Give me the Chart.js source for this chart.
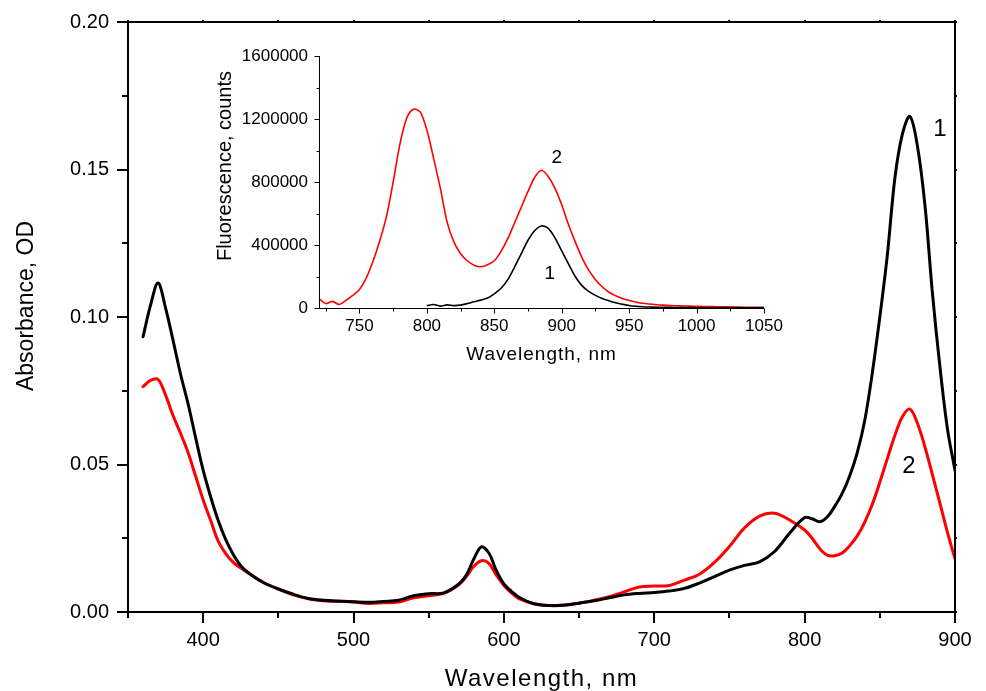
<!DOCTYPE html>
<html>
<head>
<meta charset="utf-8">
<script src="https://cdn.jsdelivr.net/npm/chart.js@4.4.1/dist/chart.umd.min.js"></script>
<style>
  html, body { margin: 0; padding: 0; background: #fff; }
  #wrap { position: relative; width: 986px; height: 691px; }
  #wrap canvas { position: absolute; left: 0; top: 0; }
</style>
</head>
<body>
<div id="wrap">
  <canvas id="main" width="986" height="691"></canvas>
  <canvas id="inset" width="986" height="691"></canvas>
</div>
<script>
// ---- absorbance spectra (main plot) ----
const absWl = [
  360, 365, 370, 375, 380, 385, 390, 395, 400, 405,
  410, 415, 420, 425, 430, 440, 450, 460, 470, 480,
  490, 500, 510, 520, 530, 540, 550, 560, 570, 575,
  580, 585, 590, 595, 600, 605, 610, 620, 630, 640,
  650, 660, 670, 680, 690, 700, 710, 720, 730, 740,
  750, 760, 770, 780, 790, 800, 805, 810, 815, 820,
  825, 830, 835, 840, 845, 850, 855, 860, 865, 870,
  875, 880, 885, 890, 895, 900,
];
const absCurve1 = [
  0.0933, 0.1040, 0.1115, 0.1030, 0.0920, 0.0805, 0.0705, 0.0590, 0.0480, 0.0390,
  0.0310, 0.0245, 0.0195, 0.0157, 0.0133, 0.0100, 0.0078, 0.0060, 0.0046, 0.0040,
  0.0037, 0.0035, 0.0033, 0.0036, 0.0040, 0.0055, 0.0062, 0.0065, 0.0095, 0.0125,
  0.0180, 0.0221, 0.0200, 0.0140, 0.0095, 0.0070, 0.0050, 0.0028, 0.0022, 0.0023,
  0.0030, 0.0038, 0.0048, 0.0058, 0.0063, 0.0066, 0.0071, 0.0080, 0.0098, 0.0120,
  0.0142, 0.0158, 0.0170, 0.0205, 0.0267, 0.0320, 0.0316, 0.0306, 0.0322, 0.0358,
  0.0402, 0.0462, 0.0540, 0.0650, 0.0810, 0.1000, 0.1210, 0.1470, 0.1620, 0.1680,
  0.1580, 0.1380, 0.1080, 0.0830, 0.0620, 0.0480,
];
const absCurve2 = [
  0.0764, 0.0785, 0.0788, 0.0735, 0.0665, 0.0605, 0.0540, 0.0460, 0.0380, 0.0310,
  0.0240, 0.0198, 0.0168, 0.0149, 0.0132, 0.0100, 0.0078, 0.0058, 0.0045, 0.0038,
  0.0036, 0.0034, 0.0029, 0.0031, 0.0034, 0.0048, 0.0055, 0.0063, 0.0092, 0.0120,
  0.0155, 0.0174, 0.0165, 0.0125, 0.0090, 0.0065, 0.0045, 0.0028, 0.0022, 0.0024,
  0.0030, 0.0040, 0.0052, 0.0068, 0.0085, 0.0088, 0.0090, 0.0108, 0.0128, 0.0168,
  0.0222, 0.0285, 0.0325, 0.0335, 0.0312, 0.0278, 0.0250, 0.0215, 0.0193, 0.0191,
  0.0200, 0.0225, 0.0258, 0.0305, 0.0365, 0.0440, 0.0520, 0.0598, 0.0662, 0.0688,
  0.0640, 0.0560, 0.0465, 0.0368, 0.0270, 0.0180,
];
const absXTicks = [400, 500, 600, 700, 800, 900];
const absXMinor = [350, 450, 550, 650, 750, 850];
const absYTicks = [0, 0.05, 0.10, 0.15, 0.20];
const absYMinor = [0.025, 0.075, 0.125, 0.175];

// ---- fluorescence spectra (inset) ----
const flWl2 = [
  720, 725, 730, 735, 740, 745, 750, 755, 760, 765,
  770, 775, 780, 785, 790, 795, 800, 805, 810, 815,
  820, 825, 830, 835, 840, 845, 850, 855, 860, 865,
  870, 875, 880, 885, 890, 895, 900, 905, 910, 915,
  920, 925, 930, 935, 940, 945, 950, 955, 960, 965,
  970, 975, 980, 985, 990, 995, 1000, 1005, 1010, 1015,
  1020, 1025, 1030, 1035, 1040, 1045, 1050,
];
const flCurve2 = [
  60000, 28000, 42000, 22000, 48000, 80000, 118000, 190000, 295000, 425000,
  580000, 800000, 1040000, 1205000, 1262000, 1245000, 1130000, 950000, 760000, 545000,
  420000, 345000, 300000, 272000, 262000, 275000, 300000, 360000, 440000, 540000,
  640000, 740000, 830000, 875000, 835000, 760000, 655000, 530000, 420000, 320000,
  240000, 180000, 135000, 100000, 78000, 60000, 47000, 38000, 30000, 25000,
  21000, 18000, 16000, 14000, 13000, 12000, 11000, 10000, 9000, 8000,
  7000, 7000, 6000, 5000, 5000, 4000, 4000,
];
const flWl1 = [
  800, 805, 810, 815, 820, 825, 830, 835, 840, 845,
  850, 855, 860, 865, 870, 875, 880, 885, 890, 895,
  900, 905, 910, 915, 920, 925, 930, 935, 940, 945,
  950, 955, 960, 965, 970, 975, 980, 985, 990, 995,
  1000, 1005, 1010, 1015, 1020, 1025, 1030, 1035, 1040, 1045,
  1050,
];
const flCurve1 = [
  15000, 22000, 12000, 20000, 15000, 18000, 28000, 40000, 50000, 63000,
  90000, 125000, 180000, 260000, 345000, 430000, 492000, 521000, 505000, 445000,
  362000, 280000, 200000, 142000, 105000, 80000, 60000, 46000, 33000, 24000,
  16000, 11000, 8000, 6000, 5000, 4000, 4000, 3000, 3000, 3000,
  2000, 2000, 2000, 2000, 1000, 1000, 1000, 1000, 1000, 1000,
  1000,
];
const flXTicks = [750, 800, 850, 900, 950, 1000, 1050];
const flXMinor = [725, 775, 825, 875, 925, 975, 1025];
const flYTicks = [0, 400000, 800000, 1200000, 1600000];
const flYMinor = [200000, 600000, 1000000, 1400000];

const FONT = 'Arial, "Liberation Sans", sans-serif';

// tick marks on one edge of the chart area, placed through the scale
function tickLines(chart, axis, values, edge, len) {
  const { ctx, chartArea: a } = chart;
  const s = chart.scales[axis];
  ctx.beginPath();
  values.forEach(v => {
    const p = Math.round(s.getPixelForValue(v));
    if (edge === 'bottom') { ctx.moveTo(p, a.bottom); ctx.lineTo(p, a.bottom + len); }
    if (edge === 'top') { ctx.moveTo(p, a.top); ctx.lineTo(p, a.top - len); }
    if (edge === 'left') { ctx.moveTo(a.left, p); ctx.lineTo(a.left - len, p); }
    if (edge === 'right') { ctx.moveTo(a.right, p); ctx.lineTo(a.right + len, p); }
  });
  ctx.stroke();
}

function textAt(ctx, str, x, y, size, opts = {}) {
  ctx.save();
  ctx.font = `${size}px ${FONT}`;
  ctx.fillStyle = '#000';
  ctx.textAlign = opts.align || 'center';
  ctx.textBaseline = opts.baseline || 'middle';
  if (opts.spacing) ctx.letterSpacing = opts.spacing;
  ctx.translate(x, y);
  if (opts.rotate) ctx.rotate(opts.rotate);
  ctx.fillText(str, 0, 0);
  ctx.restore();
}

const mainFrame = {
  id: 'mainFrame',
  afterDatasetsDraw(chart) {
    const { ctx, chartArea: a, scales: { x, y } } = chart;
    ctx.save();
    ctx.strokeStyle = '#000';
    ctx.lineWidth = 2;
    ctx.strokeRect(a.left, a.top, a.right - a.left, a.bottom - a.top);
    tickLines(chart, 'x', absXTicks, 'bottom', 11);
    tickLines(chart, 'x', absXMinor, 'bottom', 6);
    tickLines(chart, 'x', absXTicks.concat(absXMinor), 'top', 2);
    tickLines(chart, 'y', absYTicks, 'left', 11);
    tickLines(chart, 'y', absYMinor, 'left', 6);
    tickLines(chart, 'y', absYTicks.concat(absYMinor), 'right', 2);
    ctx.restore();

    textAt(ctx, '1', x.getPixelForValue(890), y.getPixelForValue(0.1637), 24);
    textAt(ctx, '2', x.getPixelForValue(869.3), y.getPixelForValue(0.0495), 24);
    textAt(ctx, 'Wavelength, nm', (a.left + a.right) / 2, 686, 24, { baseline: 'alphabetic', spacing: '1.5px' });
    textAt(ctx, 'Absorbance, OD', 33, 306, 23, { baseline: 'alphabetic', rotate: -Math.PI / 2 });
  },
};

const insetFrame = {
  id: 'insetFrame',
  afterDatasetsDraw(chart) {
    const { ctx, chartArea: a, scales: { x, y } } = chart;
    ctx.save();
    ctx.strokeStyle = '#000';
    ctx.lineWidth = 1;
    ctx.beginPath();
    ctx.moveTo(a.left + 0.5, a.top);
    ctx.lineTo(a.left + 0.5, a.bottom + 0.5);
    ctx.lineTo(a.right, a.bottom + 0.5);
    ctx.stroke();
    ctx.translate(0.5, 0.5);
    tickLines(chart, 'x', flXTicks, 'bottom', 5);
    tickLines(chart, 'x', flXMinor, 'bottom', 3);
    tickLines(chart, 'y', flYTicks, 'left', 5);
    tickLines(chart, 'y', flYMinor, 'left', 3);
    ctx.restore();

    textAt(ctx, '2', x.getPixelForValue(896.4), y.getPixelForValue(952000), 19);
    textAt(ctx, '1', x.getPixelForValue(891.2), y.getPixelForValue(216000), 19);
    textAt(ctx, 'Wavelength, nm', (a.left + a.right) / 2, 360, 19, { baseline: 'alphabetic', spacing: '1px' });
    textAt(ctx, 'Fluorescence, counts', 231, 166, 20, { baseline: 'alphabetic', rotate: -Math.PI / 2 });
  },
};

const pts = (xs, ys) => xs.map((v, i) => ({ x: v, y: ys[i] }));
const hidden = { drawOnChartArea: false, drawTicks: true, color: 'rgba(0,0,0,0)' };

new Chart(document.getElementById('main'), {
  type: 'line',
  data: {
    datasets: [
      { data: pts(absWl, absCurve1), borderColor: '#000000', borderWidth: 3 },
      { data: pts(absWl, absCurve2), borderColor: '#ff0000', borderWidth: 3 },
    ],
  },
  plugins: [mainFrame],
  options: {
    responsive: false, animation: false, events: [],
    layout: { padding: { top: 22, right: 31, left: 0, bottom: 0 } },
    elements: {
      point: { radius: 0 },
      line: { tension: 0.35, borderJoinStyle: 'round', borderCapStyle: 'round' },
    },
    plugins: { legend: { display: false }, tooltip: { enabled: false } },
    scales: {
      x: {
        type: 'linear', min: 350, max: 900,
        afterFit: s => { s.height = 79; },
        border: { display: false },
        grid: { ...hidden, tickLength: 11 },
        ticks: {
          stepSize: 50, autoSkip: false, maxRotation: 0, padding: 5, color: '#000',
          font: { family: FONT, size: 20 },
          callback: v => absXTicks.includes(v) ? String(v) : '',
        },
      },
      y: {
        type: 'linear', min: 0, max: 0.2,
        afterFit: s => { s.width = 128; },
        border: { display: false },
        grid: { ...hidden, tickLength: 11 },
        ticks: {
          stepSize: 0.025, autoSkip: false, padding: 8, color: '#000',
          font: { family: FONT, size: 20 },
          callback: v => {
            const t = absYTicks.find(k => Math.abs(k - v) < 1e-9);
            return t === undefined ? '' : t.toFixed(2);
          },
        },
      },
    },
  },
});

new Chart(document.getElementById('inset'), {
  type: 'line',
  data: {
    datasets: [
      { data: pts(flWl1, flCurve1), borderColor: '#000000', borderWidth: 1.6 },
      { data: pts(flWl2, flCurve2), borderColor: '#ff0000', borderWidth: 1.6 },
    ],
  },
  plugins: [insetFrame],
  options: {
    responsive: false, animation: false, events: [],
    layout: { padding: { top: 56, right: 222, left: 0, bottom: 0 } },
    elements: {
      point: { radius: 0 },
      line: { tension: 0.3, borderJoinStyle: 'round' },
    },
    plugins: { legend: { display: false }, tooltip: { enabled: false } },
    scales: {
      x: {
        type: 'linear', min: 720, max: 1050,
        afterFit: s => { s.height = 383; },
        border: { display: false },
        grid: { ...hidden, tickLength: 5 },
        ticks: {
          stepSize: 25, autoSkip: false, maxRotation: 0, padding: 3, color: '#000',
          font: { family: FONT, size: 17 },
          callback: v => flXTicks.includes(v) ? String(v) : '',
        },
      },
      y: {
        type: 'linear', min: 0, max: 1600000,
        afterFit: s => { s.width = 319; },
        border: { display: false },
        grid: { ...hidden, tickLength: 5 },
        ticks: {
          stepSize: 200000, autoSkip: false, padding: 6, color: '#000',
          font: { family: FONT, size: 17 },
          callback: v => flYTicks.includes(v) ? String(v) : '',
        },
      },
    },
  },
});
</script>
</body>
</html>
